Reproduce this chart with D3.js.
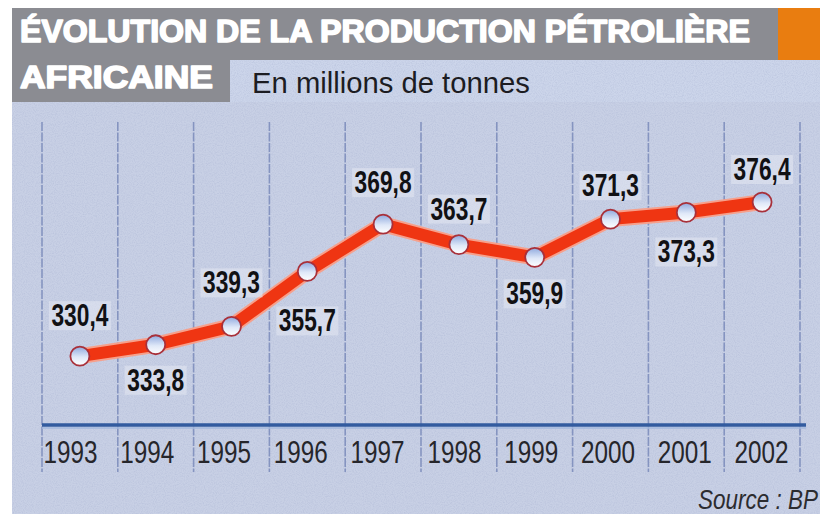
<!DOCTYPE html>
<html>
<head>
<meta charset="utf-8">
<script src="https://cdn.jsdelivr.net/npm/d3@7/dist/d3.min.js"></script>
<style>
  html, body { margin: 0; padding: 0; background: #ffffff; }
  svg { display: block; }
</style>
</head>
<body>
<script>
// ---- DATA ----
const years = ["1993", "1994", "1995", "1996", "1997", "1998", "1999", "2000", "2001", "2002"];
const production = [330.4, 333.8, 339.3, 355.7, 369.8, 363.7, 359.9, 371.3, 373.3, 376.4];
const valueLabels = ["330,4", "333,8", "339,3", "355,7", "369,8", "363,7", "359,9", "371,3", "373,3", "376,4"];
const labelSide = ["above", "below", "above", "below", "above", "above", "below", "above", "below", "above"];
const titleLines = ["ÉVOLUTION DE LA PRODUCTION PÉTROLIÈRE", "AFRICAINE"];
const subtitle = "En millions de tonnes";
const sourceText = "Source : BP";

// ---- LAYOUT ----
const W = 820, H = 514;
const sans = "'Liberation Sans', Arial, sans-serif";

const svg = d3.select("body").append("svg")
  .attr("width", W).attr("height", H)
  .attr("viewBox", `0 0 ${W} ${H}`);

const defs = svg.append("defs");
const grad = defs.append("linearGradient").attr("id", "dotFill")
  .attr("x1", 0).attr("y1", 0).attr("x2", 0).attr("y2", 1);
grad.append("stop").attr("offset", "0%").attr("stop-color", "#8fa9de");
grad.append("stop").attr("offset", "55%").attr("stop-color", "#dfe8f8");
grad.append("stop").attr("offset", "100%").attr("stop-color", "#ffffff");

const noise = defs.append("filter").attr("id", "grain").attr("x", 0).attr("y", 0).attr("width", 1).attr("height", 1);
noise.append("feTurbulence").attr("type", "fractalNoise").attr("baseFrequency", 0.9).attr("numOctaves", 2).attr("seed", 3);
noise.append("feColorMatrix").attr("type", "matrix")
  .attr("values", "0 0 0 0 0.35  0 0 0 0 0.4  0 0 0 0 0.6  0 0 0 1.2 -0.45");

// fit a text to a target width by horizontal scaling
function fitWidth(sel, targetW, tx, ty) {
  sel.each(function () {
    const t = d3.select(this);
    const w = this.getComputedTextLength();
    const k = w > 0 ? targetW / w : 1;
    t.attr("transform", `translate(${tx},${ty}) scale(${k},1)`);
  });
}

// background panel
svg.append("rect").attr("x", 12).attr("y", 8).attr("width", W - 12).attr("height", H - 8)
  .attr("fill", "#c8d0e5");
// lighter band behind subtitle
svg.append("rect").attr("x", 230).attr("y", 60).attr("width", W - 230).attr("height", 42)
  .attr("fill", "#ccd5ea");
// print grain
svg.append("rect").attr("x", 12).attr("y", 8).attr("width", W - 12).attr("height", H - 8)
  .attr("filter", "url(#grain)").attr("opacity", 0.5);

// title boxes
svg.append("rect").attr("x", 12).attr("y", 8).attr("width", 766).attr("height", 52).attr("fill", "#8b8c92");
svg.append("rect").attr("x", 12).attr("y", 58).attr("width", 218).attr("height", 44).attr("fill", "#8b8c92");
svg.append("rect").attr("x", 778).attr("y", 8).attr("width", W - 778).attr("height", 52).attr("fill", "#e97d10");

const t1 = svg.append("text").attr("x", 0).attr("y", 0)
  .attr("font-family", sans).attr("font-weight", "bold").attr("font-size", 31)
  .attr("fill", "#ffffff").attr("stroke", "#ffffff").attr("stroke-width", 1.6)
  .attr("stroke-linejoin", "round")
  .text(titleLines[0]);
fitWidth(t1, 730, 20, 42);
const t2 = svg.append("text").attr("x", 0).attr("y", 0)
  .attr("font-family", sans).attr("font-weight", "bold").attr("font-size", 31)
  .attr("fill", "#ffffff").attr("stroke", "#ffffff").attr("stroke-width", 1.6)
  .attr("stroke-linejoin", "round")
  .text(titleLines[1]);
fitWidth(t2, 193, 20, 88);

const st = svg.append("text").attr("x", 0).attr("y", 0)
  .attr("font-family", sans).attr("font-size", 29).attr("fill", "#1c1c22")
  .text(subtitle);
fitWidth(st, 278, 252, 93);

// ---- SCALES ----
const x = d3.scaleBand().domain(years).range([42, 800]).padding(0);
const xLabel = d3.scalePoint().domain(years).range([70, 761]);
const y = d3.scaleLinear().domain([320, 380]).range([391, 190]);

// gridlines (band boundaries)
const gridX = years.map(d => x(d)).concat([x(years[years.length - 1]) + x.bandwidth()]);
svg.append("g").selectAll("line").data(gridX).join("line")
  .attr("x1", d => d).attr("x2", d => d)
  .attr("y1", 122).attr("y2", 472)
  .attr("stroke", "#8594c0").attr("stroke-width", 1.6)
  .attr("stroke-dasharray", "9,1.5");

// axis line
svg.append("line").attr("x1", 42).attr("x2", 806).attr("y1", 425).attr("y2", 425)
  .attr("stroke", "#325b9f").attr("stroke-width", 3.5);
svg.append("line").attr("x1", 42).attr("x2", 806).attr("y1", 428).attr("y2", 428)
  .attr("stroke", "#a3b8de").attr("stroke-width", 1.5);

// year labels via axis
const axis = svg.append("g").attr("transform", "translate(0,463)")
  .call(d3.axisBottom(xLabel).tickSize(0).tickPadding(0));
axis.select(".domain").remove();
axis.selectAll(".tick text")
  .attr("y", 0).attr("dy", 0)
  .attr("font-family", sans).attr("font-size", 32).attr("fill", "#26262b")
  .each(function () {
    const w = this.getComputedTextLength();
    d3.select(this).attr("transform", `scale(${54 / w},1)`);
  });

// ---- LINE ----
const pts = years.map((d, i) => [x(d) + x.bandwidth() / 2, y(production[i])]);
const lineGen = d3.line();
svg.append("path").attr("d", lineGen(pts)).attr("fill", "none")
  .attr("stroke", "#f6a08c").attr("stroke-width", 16)
  .attr("stroke-linejoin", "round").attr("stroke-linecap", "round");
svg.append("path").attr("d", lineGen(pts)).attr("fill", "none")
  .attr("stroke", "#ef3512").attr("stroke-width", 12)
  .attr("stroke-linejoin", "round").attr("stroke-linecap", "round");

svg.append("g").selectAll("circle").data(pts).join("circle")
  .attr("cx", d => d[0]).attr("cy", d => d[1]).attr("r", 9.5)
  .attr("fill", "url(#dotFill)").attr("stroke", "#a8303a").attr("stroke-width", 1.8);

// ---- VALUE LABELS ----
const labelDy = [-30, 46, -33, 60, -31, -25, 47, -23, 50, -22];
const lab = svg.append("g").selectAll("g").data(years).join("g")
  .attr("transform", (d, i) => `translate(${pts[i][0]},${pts[i][1] + labelDy[i]})`);
lab.append("rect").attr("x", -31).attr("y", -25).attr("width", 62).attr("height", 29)
  .attr("fill", "#e3e8f3").attr("opacity", 0.55);
lab.append("text")
  .attr("text-anchor", "middle")
  .attr("font-family", sans).attr("font-weight", "bold").attr("font-size", 31)
  .attr("fill", "#111114")
  .text((d, i) => valueLabels[i])
  .each(function () {
    const w = this.getComputedTextLength();
    d3.select(this).attr("transform", `scale(${57 / w},1)`);
  });

// source
const src = svg.append("text").attr("x", 0).attr("y", 0)
  .attr("text-anchor", "end")
  .attr("font-family", sans).attr("font-style", "italic").attr("font-size", 27)
  .attr("fill", "#2c2c30")
  .text(sourceText);
fitWidth(src, 120, 818, 509);
</script>
</body>
</html>
